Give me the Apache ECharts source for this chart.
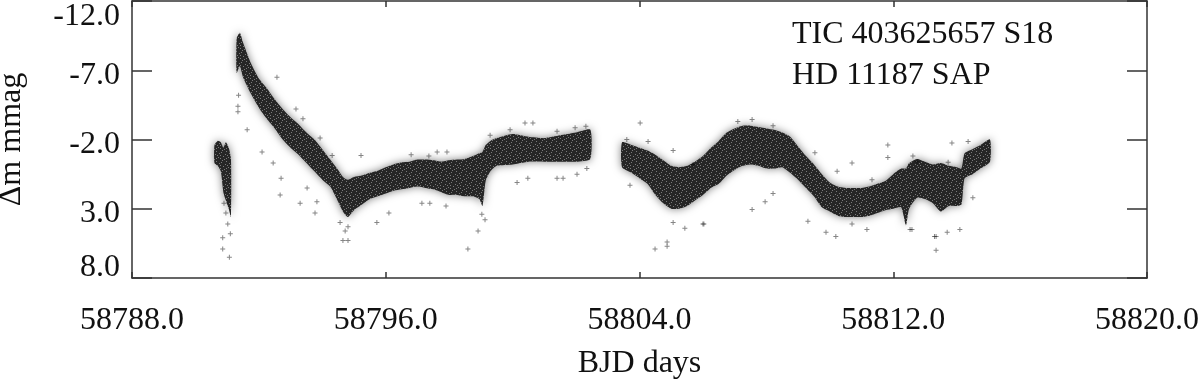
<!DOCTYPE html>
<html>
<head>
<meta charset="utf-8">
<script src="https://cdn.jsdelivr.net/npm/echarts@6/dist/echarts.min.js"></script>
<style>
  html, body { margin: 0; padding: 0; background: #fff; }
  #lc { width: 1200px; height: 385px; }
</style>
</head>
<body>
<div id="lc"></div>
<script>
// light curve: for each sample day, the bright (more negative)
// and faint edges of the dense band of points, per observing segment
const seg1Days   = [58790.60, 58790.70, 58790.80, 58790.88, 58790.96, 58791.05, 58791.12];
const seg1Bright = [-1.6, -1.9, -1.8, -1.4, -1.8, -1.4, -0.6];
const seg1Faint  = [-0.3, -0.1, 0.3, 1.8, 2.4, 3.0, 3.6];

const seg2Days = [58791.30, 58791.40, 58791.50, 58791.75, 58792.00, 58792.25, 58792.50, 58792.75,
  58793.00, 58793.25, 58793.50, 58793.75, 58794.00, 58794.25, 58794.50, 58794.65, 58794.80,
  58795.00, 58795.25, 58795.50, 58795.75, 58796.00, 58796.25, 58796.50, 58796.75, 58797.00,
  58797.25, 58797.50, 58797.75, 58798.00, 58798.25, 58798.50, 58798.75, 58798.95, 58799.05,
  58799.15, 58799.30, 58799.50, 58800.00, 58800.50, 58801.00, 58801.50, 58802.00, 58802.45];
const seg2Bright = [-9.3, -9.7, -9.0, -7.5, -6.4, -5.7, -4.9, -4.2, -3.6, -3.1, -2.5, -2.0, -1.3,
  -0.55, 0.2, 0.7, 0.9, 0.7, 0.6, 0.4, 0.25, 0.0, -0.2, -0.35, -0.4, -0.55, -0.55, -0.5, -0.4,
  -0.5, -0.55, -0.6, -0.8, -1.0, -1.1, -1.6, -1.9, -2.1, -2.4, -2.2, -2.1, -2.3, -2.5, -2.7];
const seg2Faint = [-6.8, -7.3, -6.5, -5.3, -4.3, -3.5, -2.8, -2.0, -1.4, -0.9, -0.3, 0.3, 0.9,
  1.4, 2.5, 3.2, 3.6, 3.1, 2.7, 2.3, 2.1, 1.9, 1.7, 1.6, 1.5, 1.4, 1.5, 1.6, 1.8, 2.0, 2.0, 2.1,
  2.1, 2.3, 2.8, 1.0, 0.3, -0.1, -0.2, -0.4, -0.4, -0.4, -0.4, -0.6];

const seg3Days = [58803.45, 58803.75, 58804.00, 58804.25, 58804.50, 58804.75, 58805.00, 58805.25,
  58805.50, 58805.75, 58806.00, 58806.25, 58806.50, 58806.75, 58807.00, 58807.25, 58807.50,
  58807.75, 58808.00, 58808.25, 58808.50, 58808.75, 58809.00, 58809.25, 58809.50, 58809.75,
  58810.00, 58810.25, 58810.50, 58810.75, 58811.00, 58811.25, 58811.50, 58811.75, 58812.00,
  58812.25, 58812.40, 58812.50, 58812.75, 58813.00, 58813.25, 58813.50, 58813.75, 58814.00,
  58814.15, 58814.25, 58814.50, 58814.75, 58815.05];
const seg3Bright = [-1.8, -1.6, -1.4, -1.2, -0.9, -0.5, -0.1, 0.0, -0.1, -0.4, -0.8, -1.4, -1.9,
  -2.5, -2.8, -3.0, -3.0, -2.9, -2.8, -2.7, -2.5, -2.2, -1.5, -0.8, -0.2, 0.5, 1.1, 1.4, 1.5,
  1.5, 1.5, 1.4, 1.2, 1.0, 0.5, 0.1, 0.1, -0.3, -0.6, -0.4, -0.2, -0.3, -0.1, 0.0, 0.1, -1.0,
  -1.3, -1.6, -2.0];
const seg3Faint = [0.0, 0.4, 0.8, 1.2, 2.0, 2.6, 3.0, 3.0, 2.8, 2.4, 2.0, 1.5, 1.2, 0.6, 0.2,
  -0.1, -0.2, -0.1, 0.1, 0.1, 0.0, 0.4, 0.9, 1.5, 2.1, 2.9, 3.2, 3.5, 3.6, 3.6, 3.6, 3.5, 3.3,
  3.1, 3.0, 2.9, 4.2, 3.0, 2.2, 2.3, 2.6, 3.2, 2.8, 2.8, 2.7, 0.8, 0.5, 0.1, -0.4];

// scattered points away from the band [day, mmag]
const strayPoints = [
  [58790.86, 5.1], [58790.86, 5.9], [58791.07, 6.5], [58790.96, 3.3], [58791.02, 4.1],
  [58791.10, 4.8], [58790.90, 2.6], [58791.34, -4.0], [58791.34, -4.4], [58791.63, -2.7],
  [58791.36, -5.2], [58792.10, -1.1], [58792.45, -0.3], [58792.57, -6.5], [58792.67, 2.0],
  [58792.70, 0.8], [58793.17, -4.2], [58793.30, 2.6], [58793.39, -3.5], [58793.52, 1.5],
  [58793.77, 3.3], [58793.83, 2.5], [58793.93, -2.1], [58794.31, -0.85], [58794.56, 4.0],
  [58794.65, 5.3], [58794.72, 4.6], [58794.81, 5.3], [58794.81, 4.3], [58795.22, -0.85],
  [58795.72, 4.0], [58796.10, 3.3], [58796.80, -0.9], [58797.14, 2.6], [58797.39, 2.6],
  [58797.36, -0.8], [58797.62, -1.1], [58797.90, 2.8], [58797.93, -1.1], [58798.59, 5.9],
  [58798.91, 4.6], [58799.03, 3.4], [58799.13, 3.8], [58799.29, -2.3], [58800.14, 1.1],
  [58800.39, -3.2], [58800.48, 0.8], [58800.64, -3.2], [58801.40, 0.8], [58801.59, 0.8],
  [58802.03, 0.5], [58802.34, 0.1], [58803.70, 1.3], [58804.02, -3.2], [58804.49, 5.9],
  [58804.87, 5.4], [58804.87, 5.7], [58805.06, 4.0], [58805.06, -1.2], [58805.43, 4.4],
  [58806.00, 4.1], [58806.03, 4.1], [58807.55, 3.05], [58807.96, 2.5], [58808.21, 1.9],
  [58809.88, 4.7], [58810.19, 5.0], [58810.70, -0.3], [58811.83, -1.6], [58811.83, -0.7],
  [58812.53, 4.5], [58812.59, 4.5], [58813.35, 6.0], [58813.35, 5.0], [58813.30, 5.0],
  [58813.85, -1.75], [58814.36, -1.85], [58814.51, 2.2],
  [58799.92, -2.7], [58801.40, -2.6], [58801.97, -2.85], [58802.31, -2.95], [58803.60, -2.0],
  [58804.27, -1.85], [58805.69, -0.2], [58807.10, -3.3], [58807.55, -3.45], [58808.21, -3.0],
  [58809.53, -1.05], [58810.23, 0.3], [58811.33, 0.9], [58809.31, 3.9], [58810.70, 4.1],
  [58811.17, 4.5], [58812.62, -0.8], [58812.75, -0.4], [58813.73, -0.35], [58814.10, 4.5],
  [58813.70, 4.7]
];

const dayTicks = [58788, 58820, 8];   // min, max, step
const magTicks = [-12, 8, 5];
const infoLines = ['TIC 403625657 S18', 'HD 11187 SAP'];

const segments = [
  { days: seg1Days, bright: seg1Bright, faint: seg1Faint },
  { days: seg2Days, bright: seg2Bright, faint: seg2Faint },
  { days: seg3Days, bright: seg3Bright, faint: seg3Faint }
];

const font = 'Liberation Serif';
const ink = '#333';
const plus = 'path://M2,0h1v2h2v1h-2v2h-1v-2h-2v-1h2z';

// small speckled tile so the dense band looks like overlapping marks
const tile = document.createElement('canvas');
tile.width = 10; tile.height = 10;
const g = tile.getContext('2d');
g.fillStyle = '#262626';
g.fillRect(0, 0, 10, 10);
g.fillStyle = '#7a7a7a';
[[1, 2], [6, 1], [3, 6], [8, 7], [5, 4], [0, 8], [9, 3], [4, 9], [7, 5], [2, 0], [6, 8], [0, 5]]
  .forEach(p => g.fillRect(p[0], p[1], 1, 1));

const chart = echarts.init(document.getElementById('lc'));

const xBase = {
  type: 'value', min: dayTicks[0], max: dayTicks[1], interval: dayTicks[2],
  splitLine: { show: false },
  axisLine: { show: true, onZero: false, lineStyle: { color: ink, width: 1.5 } },
  axisTick: { show: true, inside: true, length: 6, lineStyle: { color: ink, width: 1.5 } }
};
const yBase = {
  type: 'value', inverse: true, min: magTicks[0], max: magTicks[1], interval: magTicks[2],
  splitLine: { show: false },
  axisLine: { show: true, onZero: false, lineStyle: { color: ink, width: 1.5 } },
  axisTick: { show: true, inside: true, length: 20, lineStyle: { color: ink, width: 1.5 } }
};
const lab = { fontFamily: font, fontSize: 32, color: '#111' };

chart.setOption({
  animation: false,
  grid: { left: 132, right: 53, top: 1, height: 277, outerBoundsMode: 'none' },
  xAxis: [
    Object.assign({}, xBase, {
      position: 'bottom',
      axisLabel: Object.assign({ margin: 27, formatter: v => v.toFixed(1) }, lab),
      name: 'BJD days', nameLocation: 'middle', nameGap: 70,
      nameTextStyle: lab
    }),
    Object.assign({}, xBase, { position: 'top', axisLabel: { show: false } })
  ],
  yAxis: [
    Object.assign({}, yBase, {
      position: 'left',
      axisLabel: Object.assign({
        margin: 12,
        formatter: v => {
          const s = v.toFixed(1);
          if (v === magTicks[0]) return '{t|' + s + '}';
          if (v === magTicks[1]) return '{b|' + s + '}';
          return '{m|' + s + '}';
        },
        rich: {
          t: Object.assign({ padding: [32, 0, 0, 0] }, lab),
          m: Object.assign({ padding: [10, 0, 0, 0] }, lab),
          b: Object.assign({ padding: [0, 0, 20, 0] }, lab)
        }
      }, lab),
      name: 'Δm mmag', nameLocation: 'middle', nameGap: 104,
      nameTextStyle: lab
    }),
    Object.assign({}, yBase, { position: 'right', axisLabel: { show: false } })
  ],
  graphic: infoLines.map((t, i) => ({
    type: 'text', left: 792, top: 19 + i * 41,
    style: { text: t, font: '32px "Liberation Serif"', fill: '#111' }
  })),
  series: [
    {
      type: 'custom',
      xAxisIndex: 0, yAxisIndex: 0,
      data: segments.map(s => [s.days[0], s.bright[0]]),
      renderItem: (params, api) => {
        const s = segments[params.dataIndex];
        const pts = s.days.map((d, i) => api.coord([d, s.bright[i]]));
        for (let i = s.days.length - 1; i >= 0; i--) pts.push(api.coord([s.days[i], s.faint[i]]));
        return {
          type: 'polygon',
          shape: { points: pts, smooth: 0.2 },
          style: {
            fill: { image: tile, repeat: 'repeat' },
            shadowBlur: 8, shadowColor: 'rgba(0,0,0,0.5)'
          }
        };
      },
      z: 1
    },
    {
      type: 'scatter',
      data: strayPoints,
      symbol: plus, symbolSize: 5,
      itemStyle: { color: 'rgba(0,0,0,0.6)' },
      z: 2
    }
  ]
});
</script>
</body>
</html>
